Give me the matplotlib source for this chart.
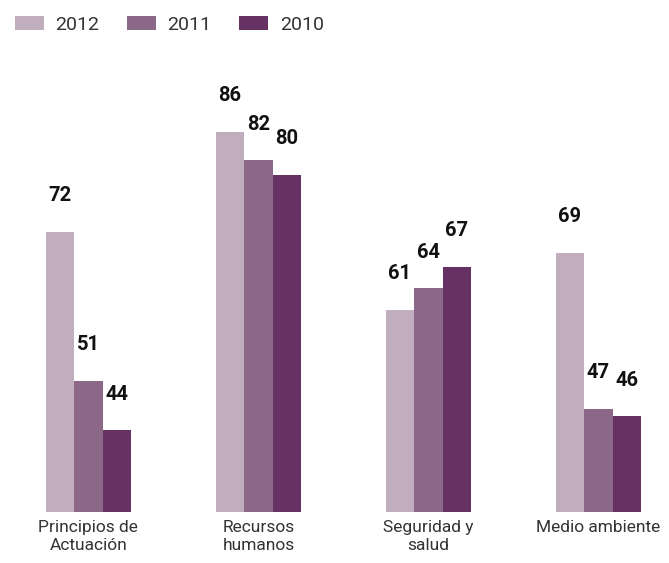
import matplotlib
matplotlib.use("Agg")
import matplotlib.pyplot as plt
import numpy as np

# ── Data ────────────────────────────────────────────────────────────────
categories = ["Principios de\nActuación", "Recursos\nhumanos", "Seguridad y\nsalud", "Medio ambiente"]
years = ["2012", "2011", "2010"]
v2012 = [72, 86, 61, 69]
v2011 = [51, 82, 64, 47]
v2010 = [44, 80, 67, 46]
colors = ["#C0AEBF", "#8B6888", "#663163"]

plt.rcParams["font.family"] = ["Roboto", "DejaVu Sans"]

fig = plt.figure(figsize=(6.69, 5.63), dpi=100)
ax = fig.add_axes([0, (563 - 512) / 563, 1, 512 / 563])

x = np.arange(len(categories))
w = 0.168
series = [v2012, v2011, v2010]
for k, (vals, yr, col) in enumerate(zip(series, years, colors)):
    pos = x + (k - 1) * w
    ax.bar(pos, vals, width=w, color=col, label=yr, linewidth=0)
    for px, v in zip(pos, vals):
        ax.annotate(str(v), (px, v), xytext=(0, 26), textcoords="offset points",
                    ha="center", va="center", fontsize=14.5, fontweight="bold", color="#111111")

ax.set_xlim(-0.52, 3.415)
ax.set_ylim(32.5, 104.6)
ax.axis("off")

for xi, lab in zip(x, categories):
    ax.text(xi, 31.4, lab, ha="center", va="top", fontsize=12.5,
            color="#333333", linespacing=1.25)

fig.legend(loc="center left", bbox_to_anchor=(0.022, 1 - 25 / 563), ncol=3,
           frameon=False, prop={"size": 14}, handlelength=1.5,
           handleheight=0.75, handletextpad=0.6, columnspacing=1.4, borderpad=0,
           borderaxespad=0, labelcolor="#333333")

fig.savefig("out.png", dpi=100)
